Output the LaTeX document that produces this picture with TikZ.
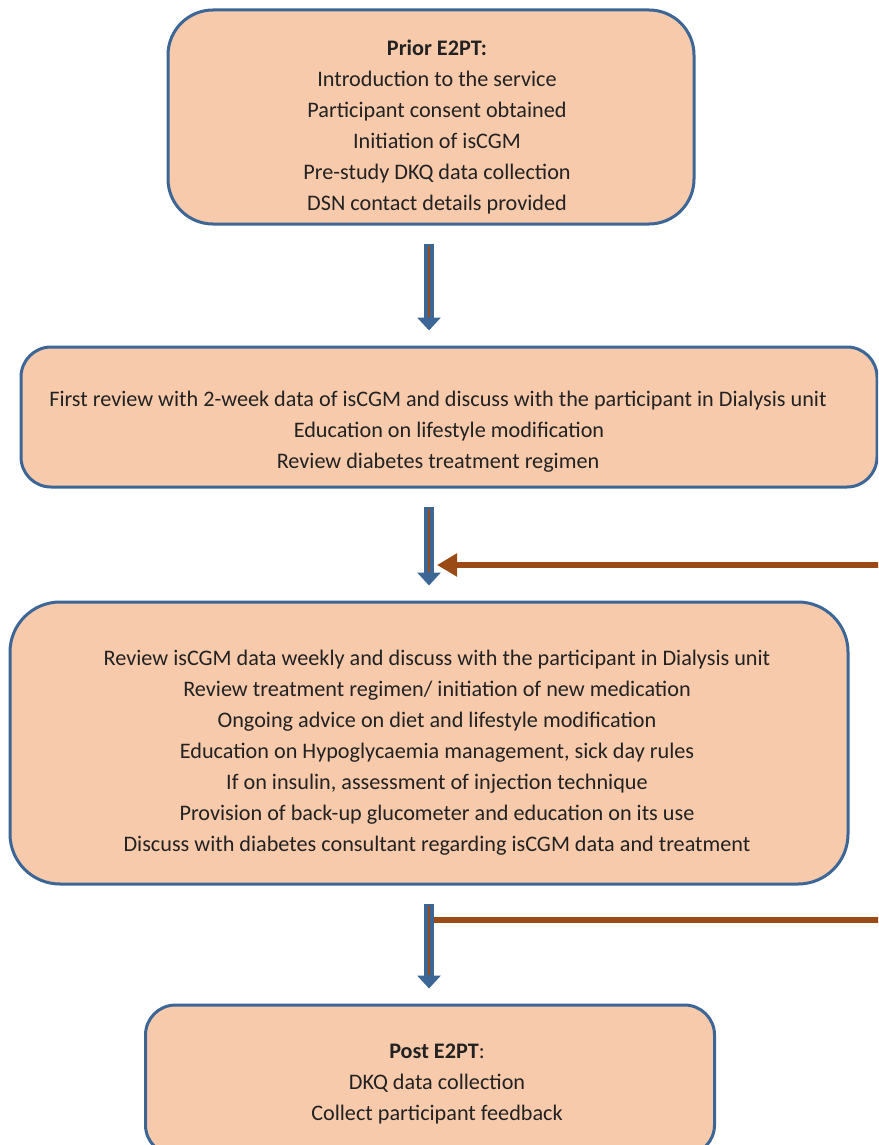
\documentclass[tikz,border=0pt]{standalone}
\usepackage{fontspec}
\setmainfont{Carlito}
\usepackage{tikz}
\usetikzlibrary{shapes,arrows.meta,positioning}
\definecolor{peach}{HTML}{F7CAAC}
\definecolor{frameblue}{HTML}{3C6696}
\definecolor{loopbrown}{HTML}{9A4A14}
\definecolor{textgray}{HTML}{222222}
\tikzstyle{stage} = [rectangle, draw = frameblue, line width = 3pt, fill = peach, align = center, text = textgray, font = \fontsize{22.2}{31}\selectfont]
\tikzstyle{flowarrow} = [draw = frameblue, line width = 10pt, shorten <= 18pt, shorten >= 15pt, -{Triangle[width = 23pt, length = 13pt]}]
\tikzstyle{flowcore} = [draw = loopbrown, line width = 2.5pt, shorten <= 20pt, shorten >= 29pt]
\tikzstyle{feedback} = [draw = loopbrown, line width = 6pt]
\newcommand{\flowarrow}[2]{\draw [flowarrow] #1 -- #2; \draw [flowcore] #1 -- #2;}
\newcommand{\lift}[1]{\rule{0pt}{#1}}
\newcommand{\pad}[1]{\hspace*{#1}}

\begin{document}
\begin{tikzpicture}[x = 1pt, y = -1pt]
			\useasboundingbox (0, 0) rectangle (878, 1145);
			\clip (0, 0) rectangle (878, 1145);
			% Place nodes
			\node [stage, rounded corners = 45pt, minimum width = 526pt, minimum height = 214pt] (prior) at (431, 117) {\lift{36pt}\pad{12pt}\textbf{Prior E2PT:}\\\pad{12pt}Introduction to the service\\\pad{12pt}Participant consent obtained\\\pad{12pt}Initiation of isCGM\\\pad{12pt}Pre-study DKQ data collection\\\pad{12pt}DSN contact details provided};
			\node [stage, rounded corners = 30pt, minimum width = 856pt, minimum height = 140pt] (first) at (449, 417) {\lift{44pt}First review with 2-week data of isCGM and discuss with the participant in Dialysis unit\pad{22pt}\\Education on lifestyle modification\pad{22pt}\\Review diabetes treatment regimen\pad{22pt}};
			\node [stage, rounded corners = 50pt, minimum width = 838pt, minimum height = 282pt] (weekly) at (429, 743) {\lift{34pt}\pad{16pt}Review isCGM data weekly and discuss with the participant in Dialysis unit\\\pad{16pt}Review treatment regimen/ initiation of new medication\\\pad{16pt}Ongoing advice on diet and lifestyle modification\\\pad{16pt}Education on Hypoglycaemia management, sick day rules\\\pad{16pt}If on insulin, assessment of injection technique\\\pad{16pt}Provision of back-up glucometer and education on its use\\\pad{16pt}Discuss with diabetes consultant regarding isCGM data and treatment};
			\node [stage, rounded corners = 30pt, minimum width = 569pt, minimum height = 150pt] (post) at (430, 1080) {\lift{22pt}\pad{14pt}\textbf{Post E2PT}:\\\pad{14pt}DKQ data collection\\\pad{14pt}Collect participant feedback};
			\coordinate (axis) at (429, 0);
			\coordinate (loopin) at (882, 565);
			\coordinate (loopout) at (882, 920);

			% Draw edges
			\path [feedback] (loopout) -- (loopout -| axis);
			\path [feedback, -{Triangle[width = 22pt, length = 20pt]}] (loopin) -- ([xshift = 8pt]loopin -| axis);
			\flowarrow{(prior.south -| axis)}{(first.north -| axis)}
			\flowarrow{(first.south -| axis)}{(weekly.north -| axis)}
			\flowarrow{(weekly.south -| axis)}{(post.north -| axis)}
		\end{tikzpicture}
\end{document}
